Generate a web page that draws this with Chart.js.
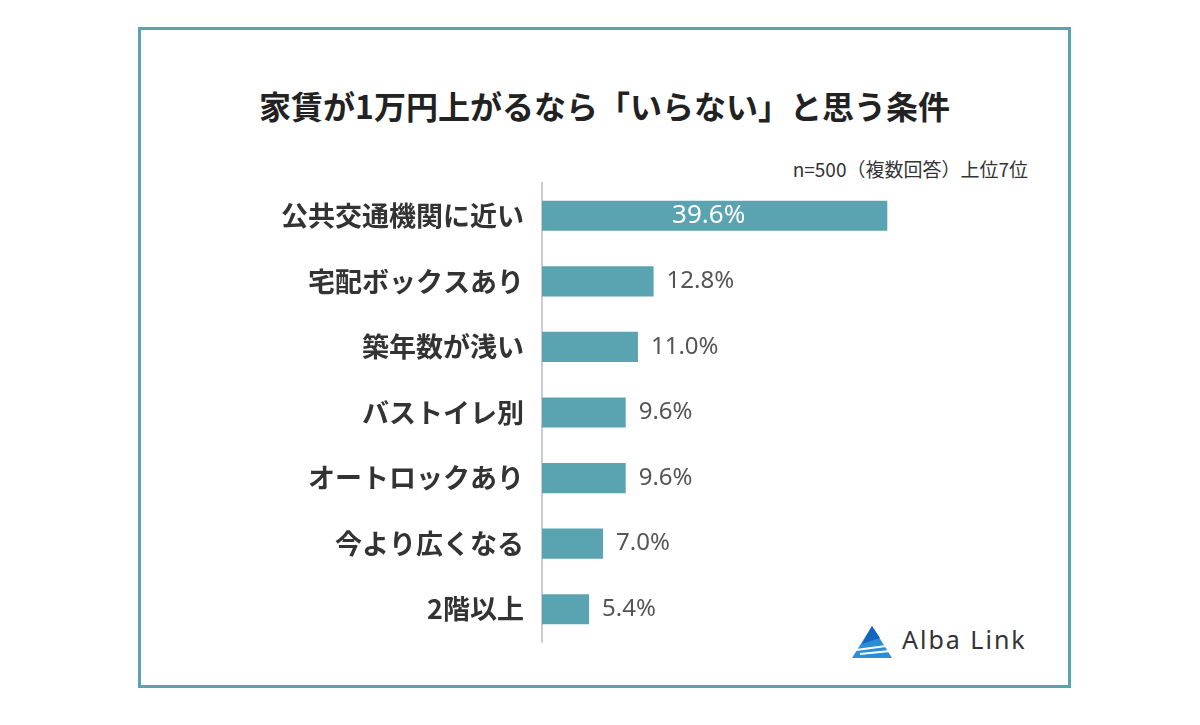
<!DOCTYPE html>
<html>
<head>
<meta charset="utf-8">
<script src="https://cdn.jsdelivr.net/npm/chart.js@4/dist/chart.umd.min.js"></script>
<style>
  body { margin: 0; background: #fff; font-family: "Noto Sans CJK JP", sans-serif; }
  #wrap { position: relative; width: 1200px; height: 725px; }
  #frame { position: absolute; left: 138px; top: 27px; width: 927px; height: 655px; border: 3px solid #5aa3b0; }
  #title { position: absolute; left: 138px; width: 933px; top: 82px; text-align: center; font-size: 32px; font-weight: bold; color: #222; }
  #note { position: absolute; right: 172px; top: 155px; font-size: 19px; color: #333; }
  #logo { position: absolute; left: 850px; top: 622px; font-family: "Noto Sans", sans-serif; font-size: 25px; color: #333; letter-spacing: 2px; }
  #logo svg { vertical-align: middle; margin-right: 10px; }
  canvas { position: absolute; left: 0; top: 0; }
</style>
</head>
<body>
<div id="wrap">
  <div id="frame"></div>
  <div id="title">家賃が1万円上がるなら「いらない」と思う条件</div>
  <div id="note">n=500（複数回答）上位7位</div>
  <div id="logo"><svg width="42" height="36" viewBox="0 0 42 36"><polygon points="22,2 2,34 42,34" fill="#2a8fd8"/><polygon points="22,2 12,20 30,14" fill="#1565c0"/><path d="M6,26 L36,22 M10,30 L40,27" stroke="#fff" stroke-width="2"/></svg>Alba Link</div>
  <canvas id="c" width="1200" height="725"></canvas>
</div>
<script>
const labels = ['公共交通機関に近い', '宅配ボックスあり', '築年数が浅い', 'バストイレ別', 'オートロックあり', '今より広くなる', '2階以上'];
const values = [39.6, 12.8, 11.0, 9.6, 9.6, 7.0, 5.4];

const valueLabels = {
    id: 'valueLabels',
    afterDatasetsDraw(chart) {
        const ctx = chart.ctx;
        const meta = chart.getDatasetMeta(0);
        ctx.save();
        ctx.textBaseline = 'middle';
        meta.data.forEach((bar, i) => {
            const txt = values[i].toFixed(1) + '%';
            if (i === 0) {
                ctx.fillStyle = '#fff';
                ctx.textAlign = 'center';
                ctx.font = '26px "Noto Sans", sans-serif';
                ctx.fillText(txt, (bar.base + bar.x) / 2 - 6, bar.y);
            } else {
                ctx.fillStyle = '#555';
                ctx.textAlign = 'left';
                ctx.font = '24px "Noto Sans", sans-serif';
                ctx.fillText(txt, bar.x + 13, bar.y);
            }
        });
        ctx.restore();
    }
};

new Chart(document.getElementById('c').getContext('2d'), {
    type: 'bar',
    data: {
        labels: labels,
        datasets: [{
            data: values,
            backgroundColor: '#5aa3b0',
            barPercentage: 0.46,
            categoryPercentage: 1
        }]
    },
    options: {
        indexAxis: 'y',
        responsive: false,
        animation: false,
        layout: { padding: { left: 0, right: 222, top: 183, bottom: 83 } },
        plugins: { legend: { display: false }, tooltip: { enabled: false } },
        scales: {
            x: { display: false, min: 0, max: 50 },
            y: {
                afterFit(scale) { scale.width = 542; },
                grid: { display: false },
                border: { color: '#ccc', width: 2 },
                ticks: { color: '#333', padding: 10, font: { size: 27, weight: 'bold', family: '"Noto Sans CJK JP", sans-serif' } }
            }
        }
    },
    plugins: [valueLabels]
});
</script>
</body>
</html>
